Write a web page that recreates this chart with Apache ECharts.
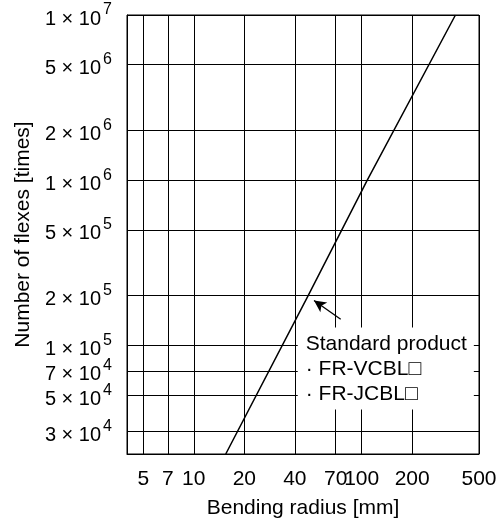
<!DOCTYPE html>
<html>
<head>
<meta charset="utf-8">
<script src="https://cdn.jsdelivr.net/npm/echarts@6/dist/echarts.min.js"></script>
<style>
  html, body { margin: 0; padding: 0; background: #fff; }
  #chart { width: 503px; height: 519px; }
</style>
</head>
<body>
<div id="chart"></div>
<script>
// bending radius [mm] vs number of flexes
const radius = [15.5, 48, 108, 362]
const flexes = [22000, 200000, 1000000, 10000000]

const xTicks = [5, 7, 10, 20, 40, 70, 100, 200, 500]
const yTicks = [30000, 50000, 70000, 100000, 200000, 500000, 1000000, 2000000, 5000000, 10000000]

// arrow from the note to the line
const arrowFrom = [75, 144000]
const arrowTo = [52, 187000]
const noteAt = [41.6, 128500]
const noteText = 'Standard product\n· FR-VCBL□\n· FR-JCBL□'

const font = '"Liberation Sans", Arial, sans-serif'

const chart = echarts.init(document.getElementById('chart'))

// 1e6 -> "1 × 10" with a raised 6
function sci(v) {
  const e = Math.floor(Math.log10(v) + 1e-9)
  const m = Math.round(v / Math.pow(10, e))
  return '{m|' + m + ' × 10}{e|' + e + '}'
}

chart.setOption({
  animation: false,
  grid: {
    left: 127, right: 24, top: 15, bottom: 65,
    outerBoundsMode: 'none',
    containLabel: false,
    show: true, borderColor: '#000', borderWidth: 1
  },
  xAxis: {
    type: 'log',
    logBase: 10,
    min: 4,
    max: 500,
    name: 'Bending radius [mm]',
    nameLocation: 'middle',
    nameGap: 44,
    nameTextStyle: { color: '#000', fontSize: 21, fontFamily: font },
    axisLine: { show: true, lineStyle: { color: '#000', width: 1 } },
    axisTick: { show: false, customValues: xTicks },
    axisLabel: {
      customValues: xTicks,
      margin: 15,
      color: '#000',
      fontSize: 21,
      fontFamily: font
    },
    splitLine: { show: true, lineStyle: { color: '#000', width: 1 } },
    minorTick: { show: false },
    minorSplitLine: { show: false }
  },
  yAxis: {
    type: 'log',
    logBase: 10,
    min: 22000,
    max: 10000000,
    name: 'Number of flexes [times]',
    nameLocation: 'middle',
    nameRotate: 90,
    nameGap: 93,
    nameTextStyle: { color: '#000', fontSize: 21, fontFamily: font },
    axisLine: { show: true, lineStyle: { color: '#000', width: 1 } },
    axisTick: { show: false, customValues: yTicks },
    axisLabel: {
      customValues: yTicks,
      margin: 15,
      formatter: sci,
      rich: {
        m: { color: '#000', fontSize: 20, fontFamily: font, padding: [8, 0, 0, 0] },
        e: { color: '#000', fontSize: 16, fontFamily: font, padding: [0, 0, 10, 2] }
      }
    },
    splitLine: { show: true, lineStyle: { color: '#000', width: 1 } }
  },
  series: [
    {
      type: 'line',
      data: radius.map((r, i) => [r, flexes[i]]),
      symbol: 'none',
      lineStyle: { color: '#000', width: 1.5 },
      markLine: {
        silent: true,
        symbol: ['none', 'arrow'],
        symbolSize: [9, 12],
        label: { show: false },
        lineStyle: { color: '#000', width: 1.3, type: 'solid' },
        data: [[{ coord: arrowFrom }, { coord: arrowTo }]]
      }
    }
  ]
})

// note box sits on the grid, placed from data coords
const p = chart.convertToPixel({ gridIndex: 0 }, noteAt)
chart.setOption({
  graphic: [
    {
      type: 'text',
      x: p[0],
      y: p[1],
      z: 100,
      style: {
        text: noteText,
        fill: '#000',
        font: '21px ' + font,
        lineHeight: 25,
        backgroundColor: '#fff',
        padding: [4, 7, 3, 8]
      }
    }
  ]
})
</script>
</body>
</html>
